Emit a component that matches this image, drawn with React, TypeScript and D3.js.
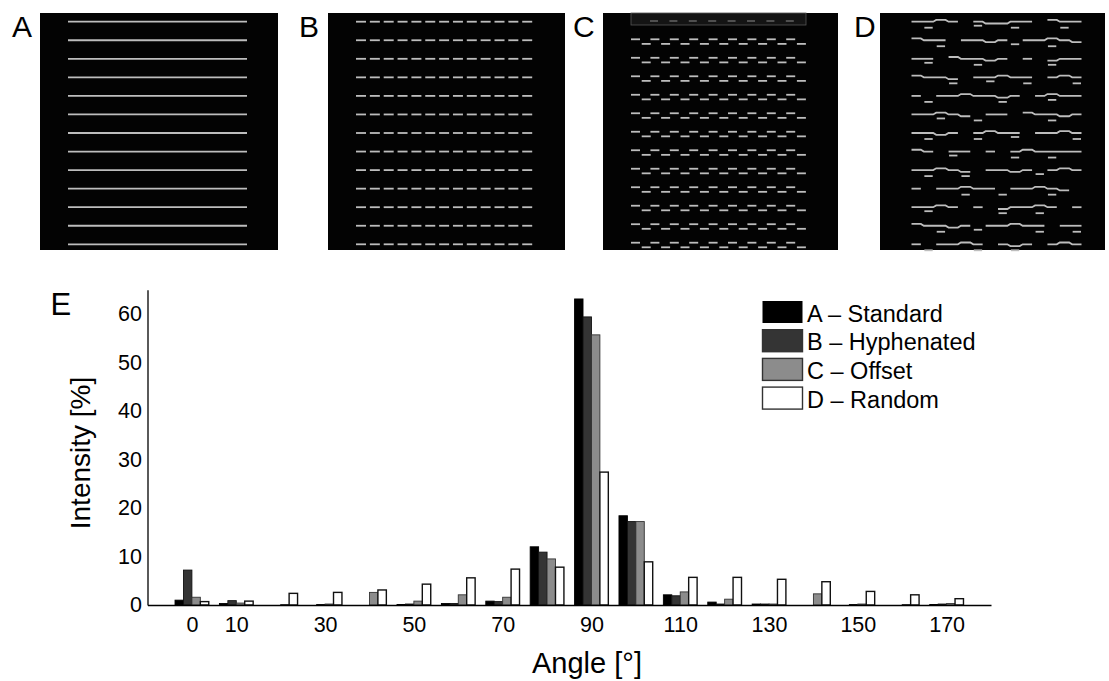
import React, { useRef, useEffect } from 'react'
import * as d3 from 'd3'

// histogram bins (deg) and intensities (%) per pattern
const angles = [0, 10, 20, 30, 40, 50, 60, 70, 80, 90, 100, 110, 120, 130, 140, 150, 160, 170]
const standard = [1.0, 0.3, 0, 0, 0, 0.1, 0.3, 0.8, 12.0, 63.1, 18.4, 2.1, 0.6, 0.2, 0, 0, 0, 0.1]
const hyphenated = [7.2, 0.9, 0, 0.1, 0, 0.2, 0.3, 0.7, 10.9, 59.4, 17.2, 1.9, 0.2, 0.2, 0, 0.1, 0, 0.2]
const offset = [1.6, 0.4, 0.1, 0.2, 2.6, 0.8, 2.1, 1.6, 9.5, 55.7, 17.2, 2.7, 1.2, 0.2, 2.3, 0.2, 0.1, 0.3]
const random = [0.7, 0.8, 2.4, 2.6, 3.1, 4.3, 5.6, 7.4, 7.8, 27.4, 8.9, 5.7, 5.7, 5.3, 4.8, 2.8, 2.1, 1.3]

const seriesNames = ['A – Standard', 'B – Hyphenated', 'C – Offset', 'D – Random']
const seriesFills = ['#000000', '#343434', '#8c8c8c', '#ffffff']
const seriesStrokes = ['#000000', '#111111', '#333333', '#111111']

const xTickValues = [0, 10, 30, 50, 70, 90, 110, 130, 150, 170]
const yTickValues = [0, 10, 20, 30, 40, 50, 60]

const panelLabels = ['A', 'B', 'C', 'D']

// panel D: one string per row, '.' is a gap, digit is vertical offset step
const randomRows = [
    '5545.56655.455',
    '455.5565.55456',
    '55.45565.5.655',
    '4556.55455.545',
    '5.5545565.5455',
    '55456.55.45565',
    '5565.5455.5545',
    '45.55.5.545555',
    '55456.5565.545',
    '5.55455.55456.',
    '5545.5.65545.5',
    '45565.55455.55',
    '5.5545.565.545'
]
// stray dashes sitting between the rows
const randomStrays = [
    '.5...4..5...5.',
    '..5.....4..5..',
    '.4...5.....5..',
    '...5..4..5...5',
    '.5.....5...4..',
    '..4..5.....5..',
    '.5...5..4....5',
    '...4....5..5..',
    '.5..5.....4...',
    '....5..5...5..',
    '.4.....5..5...',
    '..5..4....5..5',
    '.5...5..5.....'
]

const FONT = '"Liberation Sans", Arial, Helvetica, sans-serif'

const App = () => {
    const chartRef = useRef(null)

    useEffect(() => {
        document.body.style.margin = '0'
        const svg = d3.select(chartRef.current)
        svg.selectAll('*').remove()

        svg.append('rect').attr('width', 1109).attr('height', 681).attr('fill', '#fff')

        // ---- top image panels ----
        const panels = [
            { x0: 40, x1: 278 },
            { x0: 328, x1: 565 },
            { x0: 603, x1: 838 },
            { x0: 880, x1: 1105 }
        ]
        const labelX = [12, 299, 573, 854]
        const rowY = d3.scaleLinear().domain([0, 12]).range([21.7, 244.3])
        const lineColor = '#bdbdbd'

        panels.forEach((p, i) => {
            svg.append('rect')
                .attr('x', p.x0).attr('y', 13)
                .attr('width', p.x1 - p.x0).attr('height', 237)
                .attr('fill', '#030303')
            svg.append('text')
                .attr('x', labelX[i]).attr('y', 37)
                .attr('font-family', FONT).attr('font-size', 30)
                .text(panelLabels[i])
        })

        const rows = d3.range(13)

        // A: continuous lines
        svg.append('g').selectAll('line').data(rows).enter().append('line')
            .attr('x1', 68).attr('x2', 247)
            .attr('y1', d => rowY(d)).attr('y2', d => rowY(d))
            .attr('stroke', lineColor).attr('stroke-width', 1.8)

        // B: dashes
        const bDash = d3.range(13)
        rows.forEach(r => {
            svg.append('g').selectAll('line').data(bDash).enter().append('line')
                .attr('x1', k => 356 + k * 13.85).attr('x2', k => 366 + k * 13.85)
                .attr('y1', rowY(r)).attr('y2', rowY(r))
                .attr('stroke', lineColor).attr('stroke-width', 1.8)
        })

        // C: offset dashes
        svg.append('rect')
            .attr('x', 631).attr('y', 13).attr('width', 175).attr('height', 12)
            .attr('fill', '#141414').attr('stroke', '#555').attr('stroke-width', 0.8)
        svg.append('g').selectAll('line').data(d3.range(8)).enter().append('line')
            .attr('x1', k => 650 + k * 19.4).attr('x2', k => 658 + k * 19.4)
            .attr('y1', 21).attr('y2', 21)
            .attr('stroke', '#777').attr('stroke-width', 1.2)
        const cRowY = d3.scaleLinear().domain([0, 11]).range([39.3, 242.7])
        const cDash = d3.range(9)
        d3.range(12).forEach(r => {
            [0, 1].forEach(half => {
                const yy = cRowY(r) + half * 4.6
                const xs = half ? 641.7 : 631
                svg.append('g').selectAll('line').data(cDash).enter().append('line')
                    .attr('x1', k => xs + k * 19.4).attr('x2', k => xs + 9 + k * 19.4)
                    .attr('y1', yy).attr('y2', yy)
                    .attr('stroke', lineColor).attr('stroke-width', 1.8)
            })
        })

        // D: wavy random segments
        const cellW = (1083 - 910) / 14
        randomRows.forEach((row, r) => {
            const chars = row.split('')
            let pts = []
            const flush = () => {
                if (pts.length > 1) {
                    svg.append('path')
                        .attr('d', d3.line()(pts))
                        .attr('fill', 'none').attr('stroke', lineColor).attr('stroke-width', 1.8)
                }
                pts = []
            }
            chars.forEach((c, k) => {
                if (c === '.') { flush(); return }
                const dy = (+c - 5) * 1.8
                const yy = rowY(r) + dy
                pts.push([910 + k * cellW + 1.5, yy])
                pts.push([910 + (k + 1) * cellW - 1.5, yy])
            })
            flush()
        })
        randomStrays.forEach((row, r) => {
            row.split('').forEach((c, k) => {
                if (c === '.') return
                const yy = rowY(r) + 6 + (+c - 5) * 2
                svg.append('line')
                    .attr('x1', 910 + k * cellW + 2).attr('x2', 910 + (k + 1) * cellW - 2)
                    .attr('y1', yy).attr('y2', yy)
                    .attr('stroke', lineColor).attr('stroke-width', 1.8)
            })
        })

        // ---- histogram panel E ----
        const x = d3.scaleLinear().domain([-10, 180]).range([147.5, 991])
        const y = d3.scaleLinear().domain([0, 65]).range([605, 289.75])
        const groupW = x(7.6) - x(0)
        const inner = d3.scaleBand().domain(d3.range(4)).range([-groupW / 2, groupW / 2])

        const series = [standard, hyphenated, offset, random]
        const bars = angles.flatMap((a, i) => series.map((s, j) => ({ a, j, v: s[i] })))
            .filter(d => d.v > 0)

        svg.append('g').selectAll('rect').data(bars).enter().append('rect')
            .attr('x', d => x(d.a) + inner(d.j))
            .attr('width', inner.bandwidth())
            .attr('y', d => y(d.v))
            .attr('height', d => y(0) - y(d.v))
            .attr('fill', d => seriesFills[d.j])
            .attr('stroke', d => seriesStrokes[d.j])
            .attr('stroke-width', d => d.j === 3 ? 1.4 : 0.9)

        const xAxis = svg.append('g')
            .attr('transform', `translate(0,${y(0)})`)
            .call(d3.axisBottom(x).tickValues(xTickValues).tickSize(0).tickPadding(12))
        const yAxis = svg.append('g')
            .attr('transform', `translate(${x(-10)},0)`)
            .call(d3.axisLeft(y).tickValues(yTickValues).tickSize(0).tickPadding(5.5))

        ;[xAxis, yAxis].forEach(ax => {
            ax.select('.domain').attr('stroke', '#000').attr('stroke-width', 1.3)
            ax.selectAll('text').attr('font-family', FONT).attr('font-size', 21.5).attr('fill', '#000')
        })

        svg.append('text')
            .attr('x', 587).attr('y', 673)
            .attr('text-anchor', 'middle')
            .attr('font-family', FONT).attr('font-size', 29)
            .text('Angle [°]')

        svg.append('text')
            .attr('transform', 'translate(90,453) rotate(-90)')
            .attr('text-anchor', 'middle')
            .attr('font-family', FONT).attr('font-size', 28)
            .text('Intensity [%]')

        svg.append('text')
            .attr('x', 50.5).attr('y', 315)
            .attr('font-family', FONT).attr('font-size', 31)
            .text('E')

        // legend
        const legend = svg.append('g').attr('transform', 'translate(762,301)')
        seriesNames.forEach((name, i) => {
            const row = legend.append('g').attr('transform', `translate(0,${i * 28.7})`)
            row.append('rect')
                .attr('x', 0.5).attr('y', 0)
                .attr('width', 40).attr('height', 22)
                .attr('fill', seriesFills[i])
                .attr('stroke', i === 0 ? '#000' : '#333')
                .attr('stroke-width', i === 0 ? 0 : 1.4)
            row.append('text')
                .attr('x', 45).attr('y', 20.5)
                .attr('font-family', FONT).attr('font-size', 23.5)
                .text(name)
        })
    }, [])

    return <svg ref={chartRef} width={1109} height={681} style={{ display: 'block' }}></svg>
}

export default App
